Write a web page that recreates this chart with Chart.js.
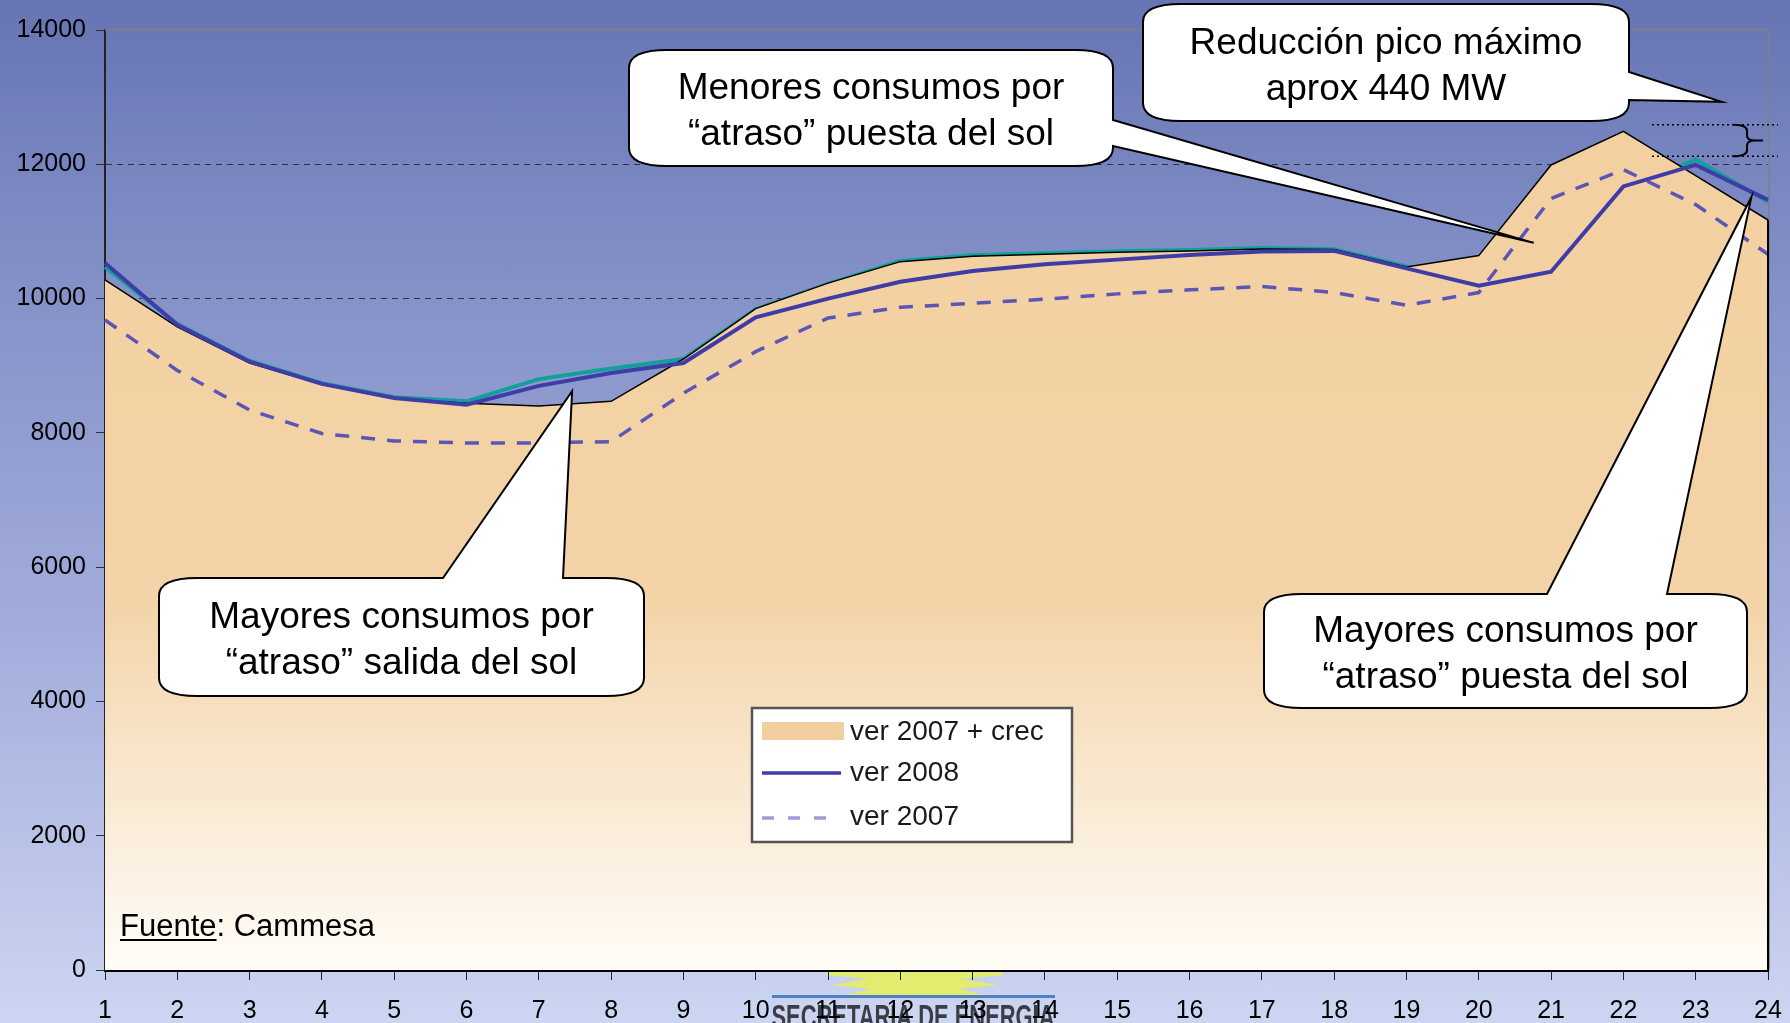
<!DOCTYPE html>
<html>
<head>
<meta charset="utf-8">
<script src="https://cdn.jsdelivr.net/npm/chart.js@4.4.1/dist/chart.umd.min.js"></script>
<style>
  html, body { margin: 0; padding: 0; }
  body {
    width: 1790px; height: 1023px; overflow: hidden;
    background: linear-gradient(to bottom, #6674b4 0%, #8693c9 30%, #a3addc 62%, #ccd5f1 100%);
  }
  #wrap { position: relative; width: 1790px; height: 1023px; }
</style>
</head>
<body>
<div id="wrap"><canvas id="demandChart"></canvas></div>
<script>
// hourly demand (MW)
const hours = ['1', '2', '3', '4', '5', '6', '7', '8', '9', '10', '11', '12',
               '13', '14', '15', '16', '17', '18', '19', '20', '21', '22', '23', '24'];
const ver2007crec = [10280, 9580, 9040, 8720, 8510, 8440, 8400, 8470, 9100, 9850, 10230, 10550,
                     10630, 10660, 10690, 10710, 10740, 10730, 10470, 10640, 11990, 12490, 11830, 11170];
const ver2008 = [10530, 9610, 9060, 8730, 8520, 8420, 8700, 8890, 9040, 9720, 10000, 10250,
                 10410, 10510, 10580, 10650, 10700, 10710, 10450, 10190, 10400, 11670, 11990, 11470];
const ver2007 = [9680, 8930, 8340, 7990, 7880, 7850, 7850, 7870, 8590, 9210, 9710, 9870,
                 9930, 9990, 10070, 10130, 10180, 10090, 9900, 10090, 11490, 11920, 11400, 10660];
// teal line sitting under the area (not in the legend)
const ver2007crecLine = [10470, 9620, 9070, 8740, 8530, 8470, 8800, 8960, 9100, 9840, 10220, 10560,
                         10645, 10675, 10705, 10725, 10755, 10735, 10480, 10200, 10410, 11600, 12070, 11440];
const legendLabels = ['ver 2007 + crec', 'ver 2008', 'ver 2007'];
const bracketLevels = [12590, 12120];

const calloutTexts = [
  ['Menores consumos por', '\u201catraso\u201d puesta del sol'],
  ['Reducción pico máximo', 'aprox 440 MW'],
  ['Mayores consumos por', '\u201catraso\u201d salida del sol'],
  ['Mayores consumos por', '\u201catraso\u201d puesta del sol']
];
// box in px, tail tip as [hour, MW]
const calloutLayout = [
  { box: [629, 50, 484, 116], side: 'right', base: [120, 146], tip: [20.76, 10830] },
  { box: [1143, 4, 486, 117], side: 'right', base: [72, 100], tip: [23.36, 12930] },
  { box: [159, 578, 485, 118], side: 'top', base: [443, 563], tip: [7.46, 8620] },
  { box: [1264, 594, 483, 114], side: 'top', base: [1547, 1667], tip: [23.77, 11510] }
];

const FONT = "'Liberation Sans', Arial, sans-serif";
Chart.defaults.font.family = FONT;

const PEACH = '#f2cf9e';
const C2008 = '#3f3ca8';
const C2007 = '#5b55b8';

function calloutPath(ctx, c, tip) {
  const [x, y, w, h] = c.box;
  const rx = 38, ry = 18;
  ctx.beginPath();
  ctx.moveTo(x + rx, y);
  if (c.side === 'top') {
    ctx.lineTo(c.base[0], y); ctx.lineTo(tip.x, tip.y); ctx.lineTo(c.base[1], y);
  }
  ctx.lineTo(x + w - rx, y);
  ctx.quadraticCurveTo(x + w, y, x + w, y + ry);
  if (c.side === 'right') {
    ctx.lineTo(x + w, c.base[0]); ctx.lineTo(tip.x, tip.y); ctx.lineTo(x + w, c.base[1]);
  }
  ctx.lineTo(x + w, y + h - ry);
  ctx.quadraticCurveTo(x + w, y + h, x + w - rx, y + h);
  ctx.lineTo(x + rx, y + h);
  ctx.quadraticCurveTo(x, y + h, x, y + h - ry);
  ctx.lineTo(x, y + ry);
  ctx.quadraticCurveTo(x, y, x + rx, y);
  ctx.closePath();
}

const slideDecor = {
  id: 'slideDecor',
  beforeDraw(chart) {
    // Secretaria de Energia logo, sits under the chart
    const ctx = chart.ctx;
    ctx.save();
    ctx.fillStyle = '#e3ec6e';
    ctx.beginPath();
    ctx.moveTo(827, 960); ctx.lineTo(1003, 960); ctx.lineTo(1003, 975);
    ctx.lineTo(962, 979); ctx.lineTo(998, 985); ctx.lineTo(960, 989); ctx.lineTo(988, 996);
    ctx.lineTo(842, 996); ctx.lineTo(870, 989); ctx.lineTo(832, 985); ctx.lineTo(868, 979);
    ctx.lineTo(827, 975);
    ctx.closePath();
    ctx.fill();
    ctx.fillStyle = '#4f80c4';
    ctx.fillRect(772, 995, 283, 3);
    ctx.fillStyle = '#3c3c44';
    ctx.font = "bold 34px 'Liberation Sans Narrow', 'Liberation Sans', sans-serif";
    ctx.textAlign = 'center';
    ctx.textBaseline = 'alphabetic';
    ctx.fillText('SECRETARIA DE ENERGIA', 913, 1028, 283);
    ctx.restore();
  },
  beforeDatasetsDraw(chart) {
    const { ctx, chartArea: a } = chart;
    ctx.save();
    ctx.strokeStyle = '#808080';
    ctx.lineWidth = 1.5;
    ctx.beginPath();
    ctx.moveTo(a.left, a.top); ctx.lineTo(a.right + 1, a.top); ctx.lineTo(a.right + 1, a.bottom);
    ctx.stroke();
    ctx.restore();
  },
  afterDatasetsDraw(chart) {
    // closing edge of the area at hour 24
    const { ctx, scales: { x, y } } = chart;
    const last = ver2007crec.length - 1;
    ctx.save();
    ctx.strokeStyle = '#000';
    ctx.lineWidth = 2;
    ctx.beginPath();
    ctx.moveTo(x.getPixelForValue(last), y.getPixelForValue(ver2007crec[last]));
    ctx.lineTo(x.getPixelForValue(last), y.getPixelForValue(0));
    ctx.stroke();
    ctx.restore();
  },
  afterDraw(chart) {
    const { ctx, scales: { x, y } } = chart;
    ctx.save();

    // peak reduction bracket
    const yA = y.getPixelForValue(bracketLevels[0]);
    const yB = y.getPixelForValue(bracketLevels[1]);
    ctx.strokeStyle = '#000';
    ctx.lineWidth = 1.5;
    ctx.setLineDash([2, 3]);
    ctx.beginPath();
    ctx.moveTo(1652, yA); ctx.lineTo(1778, yA);
    ctx.moveTo(1652, yB); ctx.lineTo(1778, yB);
    ctx.stroke();
    ctx.setLineDash([]);
    const mid = (yA + yB) / 2;
    ctx.lineWidth = 2;
    ctx.beginPath();
    ctx.moveTo(1733, yA); ctx.quadraticCurveTo(1747, yA, 1747, yA + 6);
    ctx.lineTo(1747, mid - 5); ctx.quadraticCurveTo(1747, mid, 1755, mid); ctx.lineTo(1763, mid);
    ctx.moveTo(1755, mid); ctx.quadraticCurveTo(1747, mid, 1747, mid + 5);
    ctx.lineTo(1747, yB - 6); ctx.quadraticCurveTo(1747, yB, 1733, yB);
    ctx.stroke();

    // legend box
    ctx.fillStyle = '#fff';
    ctx.fillRect(752, 708, 320, 134);
    ctx.strokeStyle = '#555';
    ctx.lineWidth = 2.5;
    ctx.strokeRect(752, 708, 320, 134);
    ctx.fillStyle = PEACH;
    ctx.fillRect(762, 722, 82, 18);
    ctx.strokeStyle = C2008;
    ctx.lineWidth = 3.5;
    ctx.beginPath(); ctx.moveTo(762, 773); ctx.lineTo(841, 773); ctx.stroke();
    ctx.strokeStyle = '#9e9adb';
    ctx.setLineDash([12, 14]);
    ctx.beginPath(); ctx.moveTo(762, 818); ctx.lineTo(834, 818); ctx.stroke();
    ctx.setLineDash([]);
    ctx.fillStyle = '#1a1a1a';
    ctx.font = '28px ' + FONT;
    ctx.textAlign = 'left';
    ctx.textBaseline = 'middle';
    [732, 773, 817].forEach((ly, i) => ctx.fillText(legendLabels[i], 850, ly));

    // callouts
    calloutLayout.forEach((c, i) => {
      const tip = { x: x.getPixelForValue(c.tip[0] - 1), y: y.getPixelForValue(c.tip[1]) };
      calloutPath(ctx, c, tip);
      ctx.fillStyle = '#fff';
      ctx.fill();
      ctx.strokeStyle = '#000';
      ctx.lineWidth = 2;
      ctx.stroke();
      const [bx, by, bw, bh] = c.box;
      const cy = by + bh / 2;
      ctx.fillStyle = '#000';
      ctx.font = '37px ' + FONT;
      ctx.textAlign = 'center';
      ctx.textBaseline = 'alphabetic';
      ctx.fillText(calloutTexts[i][0], bx + bw / 2, cy - 9);
      ctx.fillText(calloutTexts[i][1], bx + bw / 2, cy + 37);
    });

    // source note
    ctx.font = '31px ' + FONT;
    ctx.textAlign = 'left';
    ctx.fillStyle = '#000';
    ctx.fillText('Fuente', 120, 936);
    const fw = ctx.measureText('Fuente').width;
    ctx.fillText(': Cammesa', 120 + fw, 936);
    ctx.fillRect(120, 939, fw, 2);

    ctx.restore();
  }
};

const ctx = document.getElementById('demandChart').getContext('2d');

const demandChart = new Chart(ctx, {
  type: 'line',
  data: {
    labels: hours,
    datasets: [
      {
        label: 'ver 2008',
        data: ver2008,
        borderColor: C2008,
        borderWidth: 4,
        fill: false,
        order: 1
      },
      {
        label: 'ver 2007',
        data: ver2007,
        borderColor: C2007,
        borderWidth: 3.5,
        borderDash: [14, 12],
        fill: false,
        order: 2
      },
      {
        label: 'ver 2007 + crec',
        data: ver2007crec,
        borderColor: '#000',
        borderWidth: 1.5,
        fill: 'origin',
        backgroundColor: (c) => {
          const a = c.chart.chartArea;
          if (!a) return PEACH;
          const g = c.chart.ctx.createLinearGradient(0, a.top, 0, a.bottom);
          g.addColorStop(0, PEACH);
          g.addColorStop(0.6, '#f3d3a7');
          g.addColorStop(1, '#fffcf7');
          return g;
        },
        order: 3
      },
      {
        label: 'ver 2007 + crec (linea)',
        data: ver2007crecLine,
        borderColor: '#12a09b',
        borderWidth: 4,
        fill: false,
        order: 4
      }
    ]
  },
  options: {
    responsive: true,
    maintainAspectRatio: false,
    animation: false,
    layout: { padding: { top: 30, right: 22, bottom: 0, left: 0 } },
    elements: { point: { radius: 0 }, line: { tension: 0 } },
    plugins: { legend: { display: false }, tooltip: { enabled: false } },
    scales: {
      x: {
        type: 'category',
        offset: false,
        grid: { display: true, drawOnChartArea: false, drawTicks: true, tickLength: 10, tickColor: '#222', tickWidth: 1 },
        border: { display: true, color: '#000', width: 3 },
        ticks: { color: '#000', font: { size: 25 }, padding: 16, maxRotation: 0, autoSkip: false },
        afterFit: (s) => { s.height = 53; s.paddingLeft = 0; s.paddingRight = 0; }
      },
      y: {
        min: 0,
        max: 14000,
        ticks: {
          stepSize: 2000, color: '#000', font: { size: 25 }, padding: 10,
          callback: (v) => String(v)
        },
        grid: {
          color: (c) => (c.tick && (c.tick.value === 0 || c.tick.value === 14000)) ? 'rgba(0,0,0,0)' : '#333',
          lineWidth: 1,
          tickLength: 9,
          tickColor: '#333',
          tickBorderDash: []
        },
        border: { display: true, color: '#222', width: 2, dash: [6, 5] },
        afterFit: (s) => { s.width = 105; }
      }
    }
  },
  plugins: [slideDecor]
});
</script>
</body>
</html>
